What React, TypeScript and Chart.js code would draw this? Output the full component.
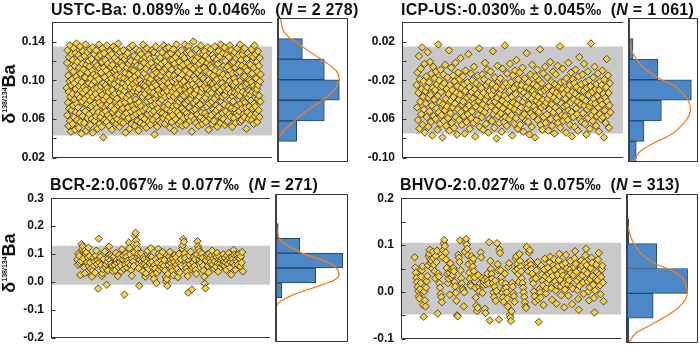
import React, { useEffect, useRef } from "react";
import { Chart, registerables } from "chart.js";

Chart.register(...registerables);

// ---------------- data ----------------
const SAMPLE_LABELS = ["USTC-Ba: ", "ICP-US:", "BCR-2:", "BHVO-2:"];
const MEANS = ["0.089", "-0.030", "0.067", "0.027"];
const TWO_SD = ["0.046", "0.045", "0.077", "0.075"];
const N_TEXT = ["2 278", "1 061", "271", "313"];

const BAND_LO = [0.043, -0.075, -0.01, -0.048];
const BAND_HI = [0.135, 0.015, 0.13, 0.105];

const Y_MIN = [0.02, -0.1, -0.2, -0.1];
const Y_MAX = [0.16, 0.04, 0.3, 0.2];
const Y_STEP = [0.02, 0.02, 0.05, 0.05];
const Y_DEC = [2, 2, 1, 1];

// histogram bins (centres) and counts
const H1_BIN = [0.05, 0.07, 0.09, 0.11, 0.13];
const H1_CNT = [222, 534, 703, 534, 286];
const H2_BIN = [0.01, -0.01, -0.03, -0.05, -0.07, -0.09];
const H2_CNT = [34, 204, 431, 227, 109, 56];
const H3_BIN = [-0.025, 0.025, 0.075, 0.125, 0.175];
const H3_CNT = [13, 77, 128, 47, 6];
const H4_BIN = [-0.075, -0.025, 0.025, 0.075, 0.125];
const H4_CNT = [7, 68, 154, 77, 7];
const HIST_XMAX = [801, 476, 138, 180];

// fitted curves (value, frequency)
const C1_Y = [0.16, 0.146, 0.133, 0.12, 0.109, 0.101, 0.096, 0.088, 0.077, 0.0655, 0.054, 0.043];
const C1_F = [38, 82, 271, 496, 666, 703, 688, 628, 459, 271, 121, 8];
const C2_Y = [0.04, 0.018, 0.0054, -0.0076, -0.019, -0.027, -0.04, -0.05, -0.059, -0.072, -0.082, -0.09, -0.098, -0.1];
const C2_F = [0, 12, 34, 102, 216, 327, 408, 424, 397, 306, 170, 80, 46, 35];
const C3_Y = [0.3, 0.22, 0.176, 0.142, 0.12, 0.097, 0.074, 0.052, 0.029, 0.0125, -0.0044, -0.027, -0.049, -0.066, -0.083, -0.123, -0.2];
const C3_F = [0, 0, 4, 11, 30, 55, 93, 115, 121, 115, 93, 55, 24, 8, 2, 0, 0];
const C4_Y = [0.2, 0.168, 0.138, 0.104, 0.081, 0.0605, 0.047, 0.03, 0.01, -0.01, -0.03, -0.05, -0.067, -0.08, -0.094, -0.1];
const C4_F = [0, 1, 4, 17, 37, 71, 112, 142, 152, 150, 129, 92, 54, 25, 11, 7];

// scatter values (per mil x 1000), in measurement order
const S1 = [
92,118,64,131,77,105,53,88,124,71,99,136,58,83,112,47,95,127,69,101,
86,55,121,74,109,133,62,97,80,115,49,128,91,67,104,138,76,59,119,85,
100,72,126,51,94,113,66,82,135,57,107,89,123,45,98,78,117,63,130,87,
70,111,93,56,125,81,103,68,137,90,48,116,75,96,129,61,108,84,52,120,
97,65,114,79,132,54,102,87,73,122,60,95,110,46,134,83,68,106,91,127,
58,99,76,118,86,63,131,104,71,92,115,50,81,124,67,101,137,77,55,112,
89,126,62,94,108,74,52,119,85,133,66,97,41,113,80,128,59,103,72,121,
95,68,110,83,57,136,92,75,117,64,100,88,125,53,106,79,130,61,98,114,
73,102,127,49,90,116,67,84,135,58,109,96,70,123,86,62,111,78,132,55,
105,81,60,120,93,74,138,65,99,112,52,87,129,76,103,57,118,91,69,124,
84,115,71,97,56,131,102,63,89,122,77,108,46,94,126,66,82,113,100,59,
128,72,98,61,117,85,106,50,134,79,93,120,68,111,55,101,87,136,74,96,
63,110,89,125,70,53,104,92,119,80,65,132,99,76,115,58,88,123,107,48,
91,77,130,67,100,114,56,85,127,73,96,62,121,83,109,137,69,95,54,118,
107,60,86,124,94,71,112,51,99,133,78,103,65,90,126,57,116,82,98,69,
122,88,54,101,79,118,66,131,93,74,106,59,87,113,68,129,97,44,110,81,
76,135,95,63,108,85,52,120,71,102,90,127,58,114,77,99,67,123,86,105,
56,98,117,80,129,66,94,109,61,87,136,72,100,55,119,83,112,64,91,133,
103,70,89,126,59,115,97,75,134,62,106,84,51,121,93,68,128,79,111,57,
88,121,64,99,73,132,83,105,48,117,92,69,124,60,101,86,137,74,96,113,
67,109,93,55,128,78,102,119,64,90,57,114,81,131,97,71,106,53,125,85,
116,61,99,84,123,68,137,91,76,110,54,94,129,66,87,118,62,103,79,135,
95,130,72,107,58,89,114,81,127,63,100,47,121,85,96,69,112,140,77,104,
59,86,120,70,101,93,56,132,79,115,90,65,108,124,74,98,53,117,83,128,
111,75,96,62,136,88,104,67,120,55,92,127,80,102,59,113,71,130,94,66,
82,125,57,98,109,73,91,118,63,134,86,100,49,122,76,107,89,61,115,97,
132,64,87,113,78,55,126,96,70,105,123,58,92,81,135,67,110,99,74,119,
69,101,121,52,94,117,84,63,130,88,72,108,97,125,56,90,137,78,103,61,
97,83,66,128,106,60,93,115,75,134,85,54,120,102,68,112,89,126,57,95,
114,58,105,91,73,124,65,99,136,80,110,62,87,131,71,96,118,52,107,83,
78,119,95,61,102,87,129,70,113,56,98,123,66,85,108,133,74,92,64,116,
126,90,68,109,84,137,57,100,76,121,93,59,115,71,127,88,103,65,131,79,
62,104,133,77,95,113,72,86,50,122,97,110,67,128,82,101,60,117,89,73,
100,85,116,64,125,79,98,132,59,107,88,71,124,94,55,113,76,136,63,91,
73,127,87,102,66,119,91,57,109,81,130,95,69,115,84,62,123,99,78,106,
];
const S2 = [
-25,-48,-12,-61,-33,5,-70,-19,-42,-8,-55,-29,14,-66,-37,-21,-50,-3,-74,-31,
-44,-16,-58,-27,9,-68,-38,-22,-52,-1,-35,-63,-13,-46,-77,-28,-6,-57,-40,-18,
-30,-60,-11,-49,-24,-71,-36,17,-53,-20,-43,-65,-9,-32,-56,-26,-79,-45,-14,-62,
-23,-51,-4,-39,-67,-29,-47,-17,-59,-34,11,-72,-25,-54,-41,-7,-64,-30,-48,-15,
-37,-69,-21,-44,-2,-58,-33,-76,-26,-50,-12,-40,-61,-19,-35,3,-53,-28,-66,-45,
-16,-42,-57,-24,-75,-31,-10,-49,-63,-38,-22,-55,7,-46,-27,-70,-36,-13,-59,-32,
-52,-20,-39,-64,-6,-44,-29,-78,-47,-23,-61,-34,-15,-56,-41,13,-68,-26,-50,-37,
-28,-58,-14,-45,-71,-33,-19,-53,-2,-40,-65,-25,-48,-9,-36,-74,-22,-60,-31,-43,
-11,-47,-35,-62,-24,10,-55,-30,-69,-17,-42,-51,-27,-80,-38,-5,-57,-21,-46,-64,
-34,-18,-54,-29,-73,-41,-8,-49,-26,-63,-36,16,-58,-23,-44,-67,-13,-39,-52,-27,
-60,-31,-3,-47,-22,-56,-37,-77,-15,-43,-28,-65,-50,-10,-34,-59,1,-45,-24,-70,
-19,-52,-40,-12,-66,-30,-48,-25,-58,-7,-42,-73,-33,-55,-18,-38,-62,-27,8,-49,
-36,-63,-22,-45,-76,-29,-14,-54,-39,-68,-4,-31,-57,-24,-47,-35,-79,-16,-51,-41,
-26,-9,-61,-37,-53,-20,-44,12,-66,-32,-48,-23,-71,-40,-13,-58,-30,-46,-6,-64,
-43,-28,-55,-17,-39,-72,-26,-50,-35,-1,-60,-21,-45,-67,-31,-11,-53,-38,-75,-24,
-48,-14,-33,-59,-41,-5,-64,-27,-52,-36,15,-69,-22,-44,-56,-29,-8,-62,-34,-47,
-21,-57,-39,-74,-18,-46,-30,-61,-2,-51,-35,-25,-66,-43,-12,-53,-78,-32,-19,-58,
-40,-23,-68,-34,-9,-49,-27,-55,-42,-72,-16,-37,4,-60,-30,-45,-24,-63,-38,-14,
-54,-31,-3,-46,-65,-22,-41,-76,-28,-50,-11,-59,-35,-20,-47,-70,-26,18,-43,-56,
-32,-62,-17,-39,-52,-6,-44,-29,-67,-24,-57,-36,-13,-48,-73,-30,-55,-21,-41,-60,
-25,-45,-10,-58,-34,-79,-19,-51,-38,-64,-27,2,-42,-56,-15,-33,-69,-46,-23,-53,
];
const S3 = [
80,62,101,93,67,25,74,135,118,128,84,52,31,114,99,106,71,88,123,57,
92,69,47,24,19,41,86,58,73,33,95,112,64,79,-24,155,70,86,91,60,
22,31,46,82,103,109,52,63,-10,72,41,84,127,98,77,66,94,58,39,88,
91,61,42,104,79,68,21,53,96,72,85,59,38,117,81,94,47,-45,63,102,
90,52,76,66,141,121,99,61,43,22,84,73,57,106,166,176,149,134,118,101,
49,-14,79,94,103,71,62,38,89,81,64,19,31,57,74,112,47,86,68,92,
121,89,72,51,26,11,61,48,82,-4,33,70,118,101,44,93,55,76,63,107,
49,58,79,41,18,2,10,-14,29,61,91,108,79,67,52,39,84,24,71,96,
55,88,62,46,17,73,101,35,66,82,58,120,131,154,144,102,86,59,48,36,
21,-38,77,94,63,108,45,-27,51,69,88,57,81,42,29,98,146,128,118,79,
109,91,69,102,86,58,41,19,-6,-23,78,93,99,57,34,101,84,66,72,95,
112,62,83,48,74,97,55,89,104,68,37,81,91,66,53,78,85,61,99,73,
58,87,70,43,94,77,64,103,86,52,71,26,90,82,68,115,97,60,44,79,
96,73,61,88,100,84,56,92,69,107,38,
];
const S4 = [
74,52,41,30,21,11,2,-9,-14,6,19,33,46,55,-28,-53,1,-18,-31,9,
23,34,57,76,81,90,69,61,66,50,86,72,58,44,29,77,64,88,-46,39,
33,18,9,-4,-11,-22,74,89,104,111,98,84,69,51,38,19,28,41,-6,61,
47,31,45,36,51,44,21,12,-2,-19,-50,-52,79,73,64,110,46,29,18,8,
4,-31,-1,86,108,113,101,92,78,59,41,28,17,13,76,64,54,71,44,31,
9,-12,-29,-41,-34,36,12,1,18,84,74,29,-2,15,21,26,-36,-45,16,31,
39,24,18,106,-61,66,49,38,28,19,-1,-11,11,24,-19,2,104,59,46,-59,
91,83,46,31,20,-2,-12,-21,6,39,18,9,-1,-14,-31,54,61,-49,-54,-62,
-41,19,11,-3,-9,-21,46,71,76,59,49,38,21,81,66,54,44,29,19,9,
-1,-11,-22,-31,-34,96,61,53,44,84,89,66,58,49,39,26,18,1,-9,-21,
29,46,61,64,-16,-64,6,-1,-12,56,37,24,14,-28,48,71,33,-3,8,20,
52,38,27,63,75,42,8,-17,34,57,70,48,22,3,-25,14,37,55,68,81,
26,12,-7,43,58,35,17,-33,5,62,79,50,32,16,-8,25,47,66,40,11,
-26,7,36,53,72,87,60,43,24,4,-15,-38,13,30,49,67,56,35,20,-4,
45,63,78,92,57,40,22,1,-18,10,27,51,73,62,34,15,-13,-44,3,28,
58,42,25,69,83,37,14,-5,32,48,56,20,-20,
];

const SCATTER = [S1, S2, S3, S4];
const BINS = [H1_BIN, H2_BIN, H3_BIN, H4_BIN];
const CNTS = [H1_CNT, H2_CNT, H3_CNT, H4_CNT];
const CURVE_Y = [C1_Y, C2_Y, C3_Y, C4_Y];
const CURVE_F = [C1_F, C2_F, C3_F, C4_F];

// ---------------- layout ----------------
const BOX_L = [52, 402, 51, 401];
const BOX_T = [18, 18, 194, 194];
const BOX_H = [144, 144, 148, 149];
const SCAT_W = [225, 226, 224, 225];
const HIST_W = [71, 70, 73, 72];
const GAP_L = [0.067, 0.066, 0.12, 0.062];
const GAP_R = [0.053, 0.058, 0.125, 0.08];
const TITLE_TOP = [1.5, 1.5, 176.5, 176.5];
const AXW = 50;
const PAD = 10;

const FONT = '"Liberation Sans", Arial, Helvetica, sans-serif';
const BAND = "#C9C9C9";
const PT_FILL = "#FAD04A";
const PT_EDGE = "#2A261B";
const BAR_FILL = "#4C87C7";
const BAR_EDGE = "#24466E";
const CURVE = "#F28026";
const FRAME = "#333333";

const scatterFrame = {
  id: "scatterFrame",
  afterDraw(chart: any) {
    const { ctx, chartArea: a, scales } = chart;
    const y = scales.y;
    ctx.save();
    ctx.strokeStyle = FRAME;
    ctx.lineWidth = 1;
    const L = Math.round(a.left) + 0.5;
    const T = Math.round(a.top) + 0.5;
    const B = Math.round(a.bottom) - 0.5;
    const R = a.right;
    ctx.beginPath();
    ctx.moveTo(R, T);
    ctx.lineTo(L, T);
    ctx.lineTo(L, B);
    ctx.lineTo(R, B);
    y.ticks.forEach((_t: any, i: number) => {
      const py = Math.round(y.getPixelForTick(i)) + 0.5;
      ctx.moveTo(L, py);
      ctx.lineTo(L + 4, py);
    });
    ctx.stroke();
    ctx.restore();
  },
};

const histFrame = {
  id: "histFrame",
  afterDraw(chart: any) {
    const { ctx, chartArea: a } = chart;
    ctx.save();
    ctx.strokeStyle = FRAME;
    ctx.lineWidth = 1;
    const T = Math.round(a.top) + 0.5;
    const B = Math.round(a.bottom) - 0.5;
    const R = Math.round(a.right) - 0.5;
    ctx.beginPath();
    ctx.moveTo(0, T);
    ctx.lineTo(R, T);
    ctx.lineTo(R, B);
    ctx.lineTo(0, B);
    ctx.stroke();
    ctx.strokeStyle = "#404040";
    ctx.lineWidth = 2;
    ctx.beginPath();
    ctx.moveTo(1, a.top);
    ctx.lineTo(1, a.bottom);
    ctx.stroke();
    ctx.restore();
  },
};

function scatterConfig(k: number): any {
  const pts = SCATTER[k];
  const n = pts.length;
  const R = (n - 1) / (1 - GAP_L[k] - GAP_R[k]);
  const xmin = -GAP_L[k] * R;
  const xmax = xmin + R;
  const yMin = Y_MIN[k];
  const step = Y_STEP[k];
  return {
    type: "scatter",
    data: {
      datasets: [
        {
          type: "line",
          data: [
            { x: xmin, y: BAND_HI[k] },
            { x: xmax, y: BAND_HI[k] },
          ],
          fill: { value: BAND_LO[k] },
          backgroundColor: BAND,
          borderColor: BAND,
          borderWidth: 0,
          pointRadius: 0,
          order: 2,
        },
        {
          type: "scatter",
          data: pts.map((v, i) => ({ x: i, y: v / 1000 })),
          pointStyle: "rectRot",
          pointRadius: 3.7,
          backgroundColor: PT_FILL,
          borderColor: PT_EDGE,
          borderWidth: 0.8,
          order: 1,
        },
      ],
    },
    options: {
      responsive: false,
      animation: false,
      events: [],
      layout: { padding: { top: PAD, bottom: PAD, left: 0, right: 0 } },
      plugins: { legend: { display: false }, tooltip: { enabled: false }, title: { display: false } },
      scales: {
        x: { type: "linear", display: false, min: xmin, max: xmax },
        y: {
          type: "linear",
          min: Y_MIN[k],
          max: Y_MAX[k],
          grid: { display: false, drawTicks: false },
          border: { display: false },
          ticks: {
            stepSize: step,
            padding: 7,
            color: "#111",
            font: { family: FONT, size: 12, weight: "bold" },
            callback: (v: any) => {
              const idx = Math.round((Number(v) - yMin) / step);
              return idx % 2 === 0 ? Number(v).toFixed(Y_DEC[k]) : "";
            },
          },
          afterFit: (s: any) => {
            s.width = AXW;
          },
        },
      },
    },
    plugins: [scatterFrame],
  };
}

function histConfig(k: number): any {
  return {
    type: "bar",
    data: {
      datasets: [
        {
          type: "line",
          indexAxis: "y",
          data: CURVE_Y[k].map((y, i) => ({ x: CURVE_F[k][i], y })),
          borderColor: CURVE,
          borderWidth: 1.3,
          pointRadius: 0,
          tension: 0.4,
          fill: false,
          order: 1,
        },
        {
          type: "bar",
          data: BINS[k].map((y, i) => ({ x: CNTS[k][i], y })),
          backgroundColor: BAR_FILL,
          borderColor: BAR_EDGE,
          borderWidth: 1,
          barPercentage: 1,
          categoryPercentage: 1,
          order: 2,
        },
      ],
    },
    options: {
      indexAxis: "y",
      responsive: false,
      animation: false,
      events: [],
      layout: { padding: { top: PAD, bottom: PAD, left: 0, right: 0 } },
      plugins: { legend: { display: false }, tooltip: { enabled: false }, title: { display: false } },
      scales: {
        y: {
          type: "linear",
          min: Y_MIN[k],
          max: Y_MAX[k],
          offset: false,
          display: false,
          grid: { offset: false },
        },
        x: { type: "linear", min: 0, max: HIST_XMAX[k], display: false },
      },
    },
    plugins: [histFrame],
  };
}

function YTitle({ cx, cy }: { cx: number; cy: number }) {
  return (
    <div style={{ position: "absolute", left: cx, top: cy, width: 0, height: 0, zIndex: 2 }}>
      <div
        style={{
          position: "absolute",
          left: 0,
          top: 0,
          transform: "translate(-50%, -50%) rotate(-90deg)",
          whiteSpace: "nowrap",
          font: `bold 18px ${FONT}`,
          lineHeight: "18px",
          color: "#111",
        }}
      >
        δ<span style={{ fontSize: 7, position: "relative", top: -8 }}>138/134</span>Ba
      </div>
    </div>
  );
}

export default function App() {
  const refs = useRef<(HTMLCanvasElement | null)[]>([]);

  useEffect(() => {
    const charts: Chart[] = [];
    for (let k = 0; k < 4; k++) {
      const sc = refs.current[2 * k];
      const hc = refs.current[2 * k + 1];
      if (sc) charts.push(new Chart(sc, scatterConfig(k)));
      if (hc) charts.push(new Chart(hc, histConfig(k)));
    }
    return () => charts.forEach((c) => c.destroy());
  }, []);

  const panels = [0, 1, 2, 3];
  return (
    <div
      style={{
        position: "fixed",
        left: 0,
        top: 0,
        width: 700,
        height: 353,
        background: "#fff",
        overflow: "hidden",
        fontFamily: FONT,
      }}
    >
      {panels.map((k) => {
        const sw = AXW + SCAT_W[k];
        const h = BOX_H[k] + 2 * PAD;
        return (
          <React.Fragment key={k}>
            <canvas
              ref={(el) => {
                refs.current[2 * k] = el;
              }}
              width={sw}
              height={h}
              style={{ position: "absolute", left: BOX_L[k] - AXW, top: BOX_T[k] - PAD, width: sw, height: h }}
            />
            <canvas
              ref={(el) => {
                refs.current[2 * k + 1] = el;
              }}
              width={HIST_W[k]}
              height={h}
              style={{
                position: "absolute",
                left: BOX_L[k] + SCAT_W[k],
                top: BOX_T[k] - PAD,
                width: HIST_W[k],
                height: h,
              }}
            />
            <div
              style={{
                position: "absolute",
                left: BOX_L[k] - 1,
                top: TITLE_TOP[k],
                font: `bold 16px ${FONT}`,
                lineHeight: "16px",
                letterSpacing: "0.25px",
                whiteSpace: "pre",
                color: "#111",
                zIndex: 2,
              }}
            >
              {`${SAMPLE_LABELS[k]}${MEANS[k]}‰ ± ${TWO_SD[k]}‰  (`}
              <i>N</i>
              {` = ${N_TEXT[k]})`}
            </div>
          </React.Fragment>
        );
      })}
      <YTitle cx={11} cy={94} />
      <YTitle cx={11} cy={263} />
    </div>
  );
}
